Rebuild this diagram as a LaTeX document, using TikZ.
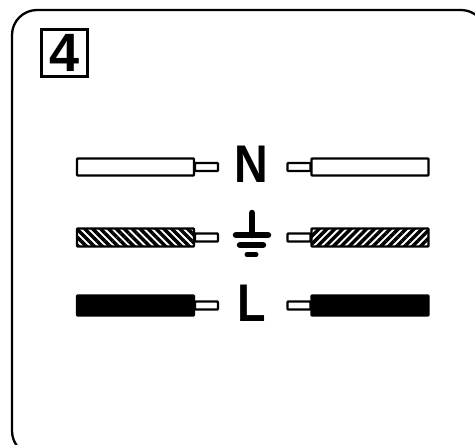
\documentclass[tikz,border=0pt]{standalone}
\usepackage{fontspec}
\setmainfont{Liberation Sans}
\usepackage{tikz}
\usetikzlibrary{patterns.meta}
\tikzstyle{wire}   = [rectangle, draw, line width=2.4pt, rounded corners=0.8pt, minimum width=117pt, minimum height=17pt, inner sep=0pt]
\tikzstyle{core}   = [rectangle, draw, line width=2.4pt, rounded corners=0.8pt, fill=white, minimum width=23pt, minimum height=8pt, inner sep=0pt]
\tikzstyle{earth}  = [wire, minimum height=18pt, draw=black, fill=black]
\tikzstyle{live}   = [wire, minimum height=20pt, fill=black]
\tikzstyle{letter} = [font=\bfseries\fontsize{53}{53}\selectfont, inner sep=0pt, xscale=0.88]
\tikzstyle{bar}    = [line width=6.5pt, line cap=round]

\begin{document}
\begin{tikzpicture}[x=1pt, y=-1pt, node distance = 71pt]
    \useasboundingbox (0,0) rectangle (475,445);
    \clip (0,0) rectangle (475,445);
    \draw[line width=2.3pt, rounded corners=25pt] (12,10) rectangle (486,456);
    \node[draw, line width=2.4pt, minimum width=46pt, minimum height=47pt, inner sep=0pt, font=\bfseries\fontsize{54}{54}\selectfont](number) at (64.5,53){4};

    % left side
    \node[wire](neutralA) at (135.5,167){};
    \node[core, right of=neutralA](neutralCoreA){};
    \node[earth, pattern={Lines[angle=-45, distance=5.6pt, line width=3.4pt]}](earthA) at (135.5,237.5){};
    \node[core, right of=earthA](earthCoreA){};
    \node[live](liveA) at (135.5,305.5){};
    \node[core, right of=liveA](liveCoreA){};

    % right side
    \node[wire](neutralB) at (370,167){};
    \node[core, left of=neutralB](neutralCoreB){};
    \node[earth, pattern={Lines[angle=45, distance=5.6pt, line width=3.4pt]}](earthB) at (370,237.5){};
    \node[core, left of=earthB](earthCoreB){};
    \node[live](liveB) at (370,305.5){};
    \node[core, left of=liveB](liveCoreB){};

    % labels
    \node[letter](labelN) at (251,164.5){N};
    \node[letter](labelL) at (252,303.5){L};

    % earth symbol
    \coordinate (stemTop) at (252,213);
    \coordinate (stemEnd) at (252,235);
    \draw[bar] (stemTop) -- (stemEnd);
    \draw[bar] (236,235) -- (268,235);
    \draw[bar] (240,245) -- (263,245);
    \draw[bar, line width=5pt] (247,254.5) -- (256,254.5);
\end{tikzpicture}
\end{document}
